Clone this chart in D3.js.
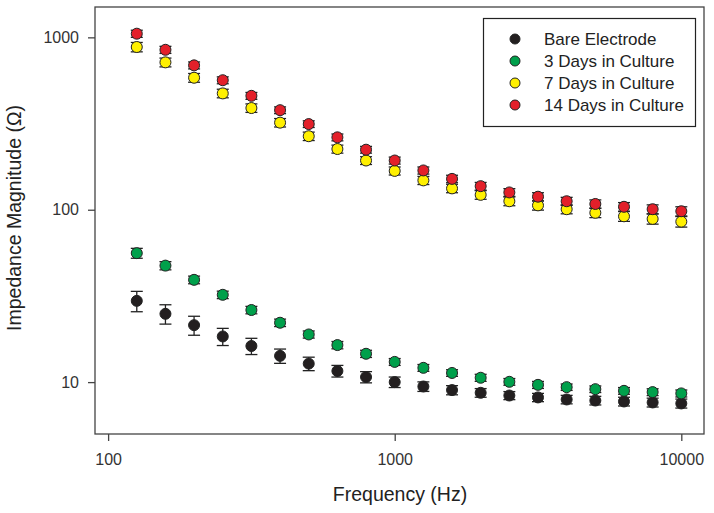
<!DOCTYPE html>
<html>
<head>
<meta charset="utf-8">
<script src="https://cdn.jsdelivr.net/npm/d3@7"></script>
<style>
  body { margin: 0; background: #fff; }
  svg { display: block; font-family: "Liberation Sans", Arial, sans-serif; }
</style>
</head>
<body>
<div id="chart"></div>
<script>
// frequencies (Hz), 10 points per decade from 10^2.1 to 10^4
var frequencies = [125.9, 158.5, 199.5, 251.2, 316.2, 398.1, 501.2, 631.0, 794.3, 1000,
                   1259, 1585, 1995, 2512, 3162, 3981, 5012, 6310, 7943, 10000];

var seriesNames = ["Bare Electrode", "3 Days in Culture", "7 Days in Culture", "14 Days in Culture"];
var seriesColors = ["#231f20", "#00a04b", "#fff000", "#e3202a"];

var bareMean = [29.6, 24.9, 21.4, 18.4, 16.2, 14.2, 12.8, 11.6, 10.7, 10.0,
                9.43, 8.99, 8.67, 8.36, 8.15, 7.93, 7.82, 7.72, 7.62, 7.52];
var bareErr  = [4.0, 3.2, 2.7, 2.1, 1.75, 1.35, 1.15, 0.9, 0.8, 0.7,
                0.6, 0.55, 0.5, 0.45, 0.45, 0.45, 0.45, 0.45, 0.45, 0.45];

var day3Mean = [56, 47.4, 39.2, 32.1, 26.2, 22.1, 18.9, 16.4, 14.6, 13.1,
                12.1, 11.3, 10.6, 10.04, 9.64, 9.35, 9.1, 8.9, 8.75, 8.6];
var day3Err  = [3.7, 2.6, 2.0, 1.6, 1.3, 1.1, 0.9, 0.8, 0.7, 0.6,
                0.55, 0.5, 0.5, 0.45, 0.45, 0.4, 0.4, 0.4, 0.4, 0.4];

var day7Mean = [879, 716, 583, 473, 389, 320, 267, 225, 193, 168,
                148, 133, 122, 112, 106, 100.7, 96, 91.6, 88.5, 85.3];
var day7Err  = [55, 42, 34, 27, 22, 18, 15, 12, 10, 9,
                8, 7.5, 7, 6.5, 6.5, 6, 6, 6, 6, 6];

var day14Mean = [1050, 847, 688, 564, 458, 378, 314, 263, 223, 193,
                 169, 151, 137, 126, 119, 112, 108, 104, 100.7, 98];
var day14Err  = [50, 40, 32, 26, 21, 17, 14, 12, 10, 9,
                 8, 7.5, 7, 6.5, 6.5, 6, 6, 6, 6, 6];

var xTicks = [100, 1000, 10000];
var yTicks = [10, 100, 1000];

var width = 714, height = 513;
var margin = { top: 7, right: 10, bottom: 79, left: 95 };

var series = [
  { name: seriesNames[0], color: seriesColors[0], mean: bareMean, err: bareErr },
  { name: seriesNames[1], color: seriesColors[1], mean: day3Mean, err: day3Err },
  { name: seriesNames[2], color: seriesColors[2], mean: day7Mean, err: day7Err },
  { name: seriesNames[3], color: seriesColors[3], mean: day14Mean, err: day14Err }
];

var svg = d3.select("#chart").append("svg")
  .attr("width", width)
  .attr("height", height);

var x = d3.scaleLog()
  .domain([90, 12000])
  .range([margin.left, width - margin.right]);

var y = d3.scaleLog()
  .domain([5, 1500])
  .range([height - margin.bottom, margin.top]);

var axisColor = "#444";

// frame
svg.append("rect")
  .attr("x", margin.left)
  .attr("y", margin.top)
  .attr("width", width - margin.left - margin.right)
  .attr("height", height - margin.top - margin.bottom)
  .attr("fill", "none")
  .attr("stroke", axisColor)
  .attr("stroke-width", 1.3);

var xAxis = svg.append("g")
  .attr("transform", "translate(0," + (height - margin.bottom) + ")")
  .call(d3.axisBottom(x).tickValues(xTicks).tickFormat(d3.format("d")).tickSize(7).tickSizeOuter(0));

var yAxis = svg.append("g")
  .attr("transform", "translate(" + margin.left + ",0)")
  .call(d3.axisLeft(y).tickValues(yTicks).tickFormat(d3.format("d")).tickSize(7).tickSizeOuter(0));

[xAxis, yAxis].forEach(function (g) {
  g.select(".domain").remove();
  g.selectAll(".tick line").attr("stroke", axisColor).attr("stroke-width", 1.3);
  g.selectAll(".tick text")
    .attr("fill", "#333")
    .style("font-size", "16px")
    .style("font-family", "'Liberation Sans', Arial, sans-serif");
});
xAxis.selectAll(".tick text").attr("dy", 0).attr("y", 31);
yAxis.selectAll(".tick text").attr("x", -16);

// axis titles
svg.append("text")
  .attr("x", 400)
  .attr("y", 501)
  .attr("text-anchor", "middle")
  .attr("fill", "#222")
  .style("font-size", "19.5px")
  .text("Frequency (Hz)");

svg.append("text")
  .attr("transform", "translate(21,218) rotate(-90)")
  .attr("text-anchor", "middle")
  .attr("fill", "#222")
  .style("font-size", "19.5px")
  .text("Impedance Magnitude (\u03A9)");

// data
var r = 5.5, cap = 6;
series.forEach(function (s) {
  var g = svg.append("g");
  var pts = frequencies.map(function (f, i) { return { f: f, m: s.mean[i], e: s.err[i] }; });

  var eb = g.selectAll(".eb").data(pts).join("g").attr("stroke", "#222").attr("stroke-width", 1.3);
  eb.append("line")
    .attr("x1", function (d) { return x(d.f); })
    .attr("x2", function (d) { return x(d.f); })
    .attr("y1", function (d) { return y(d.m + d.e); })
    .attr("y2", function (d) { return y(d.m - d.e); });
  eb.append("line")
    .attr("x1", function (d) { return x(d.f) - cap; })
    .attr("x2", function (d) { return x(d.f) + cap; })
    .attr("y1", function (d) { return y(d.m + d.e); })
    .attr("y2", function (d) { return y(d.m + d.e); });
  eb.append("line")
    .attr("x1", function (d) { return x(d.f) - cap; })
    .attr("x2", function (d) { return x(d.f) + cap; })
    .attr("y1", function (d) { return y(d.m - d.e); })
    .attr("y2", function (d) { return y(d.m - d.e); });

  g.selectAll("circle").data(pts).join("circle")
    .attr("cx", function (d) { return x(d.f); })
    .attr("cy", function (d) { return y(d.m); })
    .attr("r", r)
    .attr("fill", s.color)
    .attr("stroke", "#222")
    .attr("stroke-width", 1);
});

// legend
var legend = svg.append("g");
legend.append("rect")
  .attr("x", 483.5).attr("y", 18.5)
  .attr("width", 212).attr("height", 108)
  .attr("fill", "#fff")
  .attr("stroke", "#222")
  .attr("stroke-width", 1.2);

var rows = legend.selectAll(".row").data(series).join("g")
  .attr("transform", function (d, i) { return "translate(515," + (39 + i * 22) + ")"; });
rows.append("circle")
  .attr("r", 5)
  .attr("fill", function (d) { return d.color; })
  .attr("stroke", "#222")
  .attr("stroke-width", 1);
rows.append("text")
  .attr("x", 29)
  .attr("dy", "0.35em")
  .attr("fill", "#222")
  .style("font-size", "17px")
  .text(function (d) { return d.name; });
</script>
</body>
</html>
